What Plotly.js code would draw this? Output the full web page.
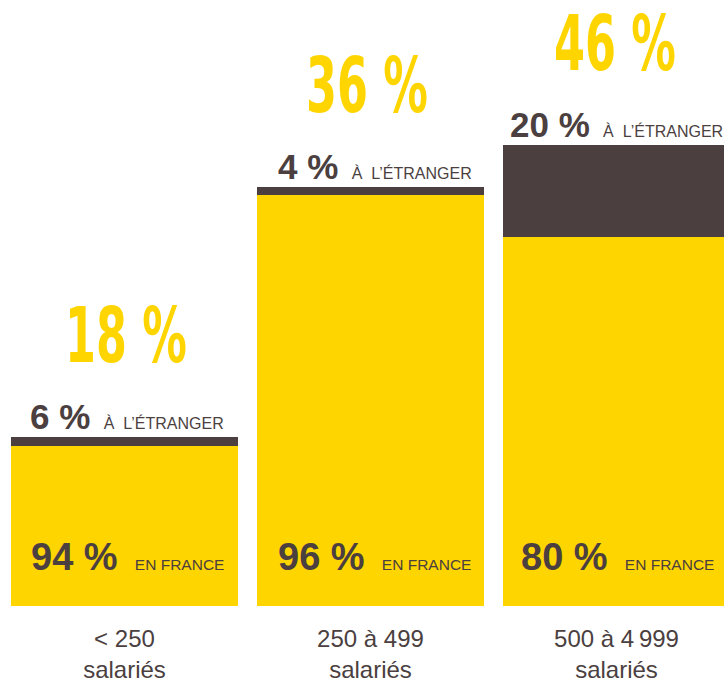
<!DOCTYPE html>
<html>
<head>
<meta charset="utf-8">
<script src="https://cdn.plot.ly/plotly-3.0.1.min.js"></script>
<style>html,body{margin:0;padding:0;background:#fff;}#chart{width:724px;height:683px;}</style>
</head>
<body>
<div id="chart"></div>
<script>
// Categories (company size)
const categories = ["< 250 salariés", "250 à 499 salariés", "500 à 4999 salariés"];
const tickLabels = ["&lt; 250<br>salariés", "250 à 499<br>salariés", "500 à 4\u2009999<br>salariés"];
// Labels printed on the graphic
const totalLabels = ["18 %", "36 %", "46 %"];
const abroadLabels = ["6 %", "4 %", "20 %"];
const franceLabels = ["94 %", "96 %", "80 %"];
// Bar segment heights as drawn in the graphic (not to scale with the labels)
const franceHeight = [16.0, 41.1, 36.9];
const abroadHeight = [0.9, 0.8, 9.2];

const YELLOW = "#FFD500";
const DARK = "#4B3F3F";

const totals = franceHeight.map((v, i) => v + abroadHeight[i]);

const traces = [
  { type: "bar", x: categories, y: franceHeight, marker: { color: YELLOW, line: { width: 0 } },
    width: 0.923, hoverinfo: "skip", name: "En France" },
  { type: "bar", x: categories, y: abroadHeight, marker: { color: DARK, line: { width: 0 } },
    width: 0.923, hoverinfo: "skip", name: "À l'étranger" }
];

const annotations = [];
const topShift = [-96, -94, -108];
const botShift = [-95, -94, -97];
const totalShift = [1.5, -3.5, -1.5];
const bigIdx = [];
categories.forEach((c, i) => {
  bigIdx.push(annotations.length);
  annotations.push({
    x: c, y: totals[i], xref: "x", yref: "y", xanchor: "center", yanchor: "bottom",
    xshift: totalShift[i], yshift: 55, showarrow: false,
    text: totalLabels[i],
    font: { family: "DejaVu Sans Condensed, DejaVu Sans, sans-serif", size: 77, color: YELLOW, weight: 700 }
  });
  annotations.push({
    x: c, y: totals[i], xref: "x", yref: "y", xanchor: "left", yanchor: "bottom",
    xshift: topShift[i], yshift: -1, showarrow: false,
    text: "<b>" + abroadLabels[i] + "</b><span style='font-size:16px'>   À  L’ÉTRANGER</span>",
    font: { family: "Liberation Sans, Arial, sans-serif", size: 35, color: DARK }
  });
  annotations.push({
    x: c, y: 0, xref: "x", yref: "y", xanchor: "left", yanchor: "bottom",
    xshift: botShift[i], yshift: 26, showarrow: false,
    text: "<b>" + franceLabels[i] + "</b><span style='font-size:15.5px'>    EN FRANCE</span>",
    font: { family: "Liberation Sans, Arial, sans-serif", size: 38, color: DARK }
  });
});

const layout = {
  width: 724, height: 683,
  margin: { l: 0, r: 0, t: 0, b: 77, pad: 0 },
  paper_bgcolor: "#fff", plot_bgcolor: "#fff",
  barmode: "stack",
  showlegend: false,
  xaxis: {
    type: "category", range: [-0.506, 2.437],
    tickmode: "array", tickvals: categories, ticktext: tickLabels,
    ticks: "", showline: false, showgrid: false, zeroline: false,
    ticklabelstandoff: 16,
    tickfont: { family: "Liberation Sans, Arial, sans-serif", size: 24, color: DARK }
  },
  yaxis: { range: [0, 60.6], visible: false, showgrid: false, zeroline: false, fixedrange: true },
  annotations: annotations
};

Plotly.newPlot("chart", traces, layout, { staticPlot: true, displayModeBar: false }).then(gd => {
  // condense the big yellow totals horizontally (the original uses a condensed display face)
  const TARGET_WIDTH = 122;
  let scale = null;
  bigIdx.forEach(idx => {
    const g = gd.querySelector('.annotation[data-index="' + idx + '"] text.annotation-text');
    if (!g) return;
    const bb = g.getBBox();
    if (scale === null) scale = TARGET_WIDTH / bb.width;
    const cx = bb.x + bb.width / 2;
    g.setAttribute("transform", "translate(" + cx + ",0) scale(" + scale + ",1) translate(" + (-cx) + ",0)");
  });
});
</script>
</body>
</html>
